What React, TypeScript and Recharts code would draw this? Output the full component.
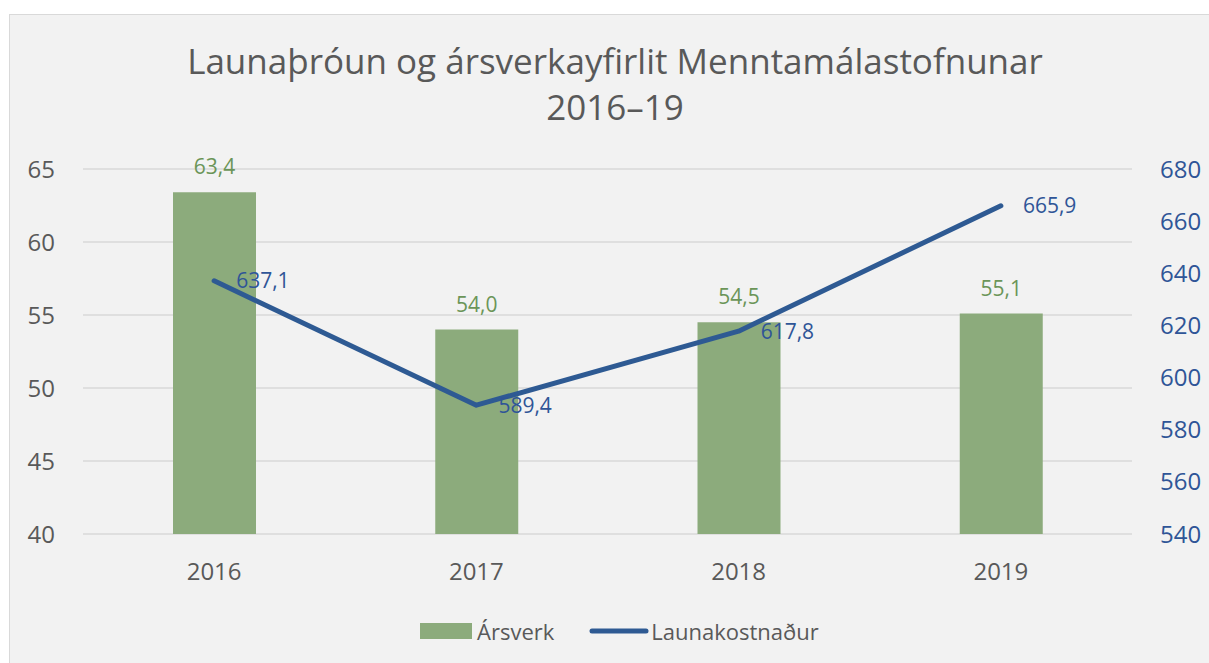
import React from 'react';
import { ComposedChart, Bar, Line, XAxis, YAxis, CartesianGrid, LabelList, Legend } from 'recharts';

const years = ['2016', '2017', '2018', '2019'];
const arsverk = [63.4, 54.0, 54.5, 55.1];
const launakostnadur = [637.1, 589.4, 617.8, 665.9];
const leftTicks = [40, 45, 50, 55, 60, 65];
const rightTicks = [540, 560, 580, 600, 620, 640, 660, 680];

const data = years.map((y, i) => ({ year: y, arsverk: arsverk[i], launakostnadur: launakostnadur[i] }));

const FONT = '"Open Sans", "Noto Sans", sans-serif';
const GRAY = '#595959';
const GREEN = '#8cab7c';
const GREEN_LABEL = '#6b9558';
const BLUE = '#2e5a93';
const BLUE_LABEL = '#2f5597';

const fmt = (v: any) => Number(v).toFixed(1).replace('.', ',');

const LegendContent = () => (
  <div style={{ display: 'flex', alignItems: 'center', paddingLeft: 410, fontFamily: FONT, fontSize: 22, color: GRAY, height: 30 }}>
    <div style={{ width: 52, height: 16, background: GREEN }} />
    <span style={{ marginLeft: 5 }}>Ársverk</span>
    <svg width={60} height={10} style={{ marginLeft: 35 }}>
      <line x1={3} y1={5} x2={57} y2={5} stroke={BLUE} strokeWidth={5} strokeLinecap="round" />
    </svg>
    <span style={{ marginLeft: 2 }}>Launakostnaður</span>
  </div>
);

export default function App() {
  return (
    <div
      style={{
        position: 'absolute',
        left: 9,
        top: 14,
        width: 1215,
        height: 660,
        background: '#f2f2f2',
        border: '1px solid #d9d9d9',
        fontFamily: FONT,
      }}
    >
      <div
        style={{
          position: 'absolute',
          left: 0,
          top: 23,
          width: 1210,
          textAlign: 'center',
          color: GRAY,
          fontSize: 35,
          lineHeight: '46px',
          fontFamily: FONT,
        }}
      >
        Launaþróun og ársverkayfirlit Menntamálastofnunar
        <br />
        2016–19
      </div>
      <ComposedChart
        width={1200}
        height={650}
        data={data}
        margin={{ top: 154, right: 0, bottom: 71, left: 0 }}
        style={{ position: 'absolute', left: 0, top: 0 }}
      >
        <CartesianGrid yAxisId="left" vertical={false} stroke="#d9d9d9" strokeWidth={1.3} />
        <XAxis
          dataKey="year"
          axisLine={false}
          tickLine={false}
          tickSize={0}
          tickMargin={29}
          height={60}
          tick={{ fill: GRAY, fontSize: 24, fontFamily: FONT }}
        />
        <YAxis
          yAxisId="left"
          orientation="left"
          domain={[40, 65]}
          ticks={leftTicks}
          axisLine={false}
          tickLine={false}
          tickSize={0}
          tickMargin={28}
          width={73}
          tick={{ fill: GRAY, fontSize: 24, fontFamily: FONT }}
        />
        <YAxis
          yAxisId="right"
          orientation="right"
          domain={[540, 680]}
          ticks={rightTicks}
          axisLine={false}
          tickLine={false}
          tickSize={0}
          tickMargin={28}
          width={78}
          tick={{ fill: BLUE_LABEL, fontSize: 24, fontFamily: FONT }}
        />
        <Legend
          layout="horizontal"
          verticalAlign="middle"
          align="center"
          content={<LegendContent />}
          wrapperStyle={{ top: 601, left: 0, width: 1200 }}
        />
        <Bar yAxisId="left" dataKey="arsverk" name="Ársverk" fill={GREEN} barSize={83} isAnimationActive={false}>
          <LabelList
            dataKey="arsverk"
            position="top"
            offset={18}
            formatter={fmt}
            style={{ fill: GREEN_LABEL, fontSize: 21, fontFamily: FONT }}
          />
        </Bar>
        <Line
          yAxisId="right"
          dataKey="launakostnadur"
          name="Launakostnaður"
          stroke={BLUE}
          strokeWidth={5}
          dot={false}
          activeDot={false}
          strokeLinecap="round"
          strokeLinejoin="round"
          isAnimationActive={false}
        >
          <LabelList
            dataKey="launakostnadur"
            position="right"
            offset={22}
            formatter={fmt}
            style={{ fill: BLUE_LABEL, fontSize: 21, fontFamily: FONT }}
          />
        </Line>
      </ComposedChart>
    </div>
  );
}
